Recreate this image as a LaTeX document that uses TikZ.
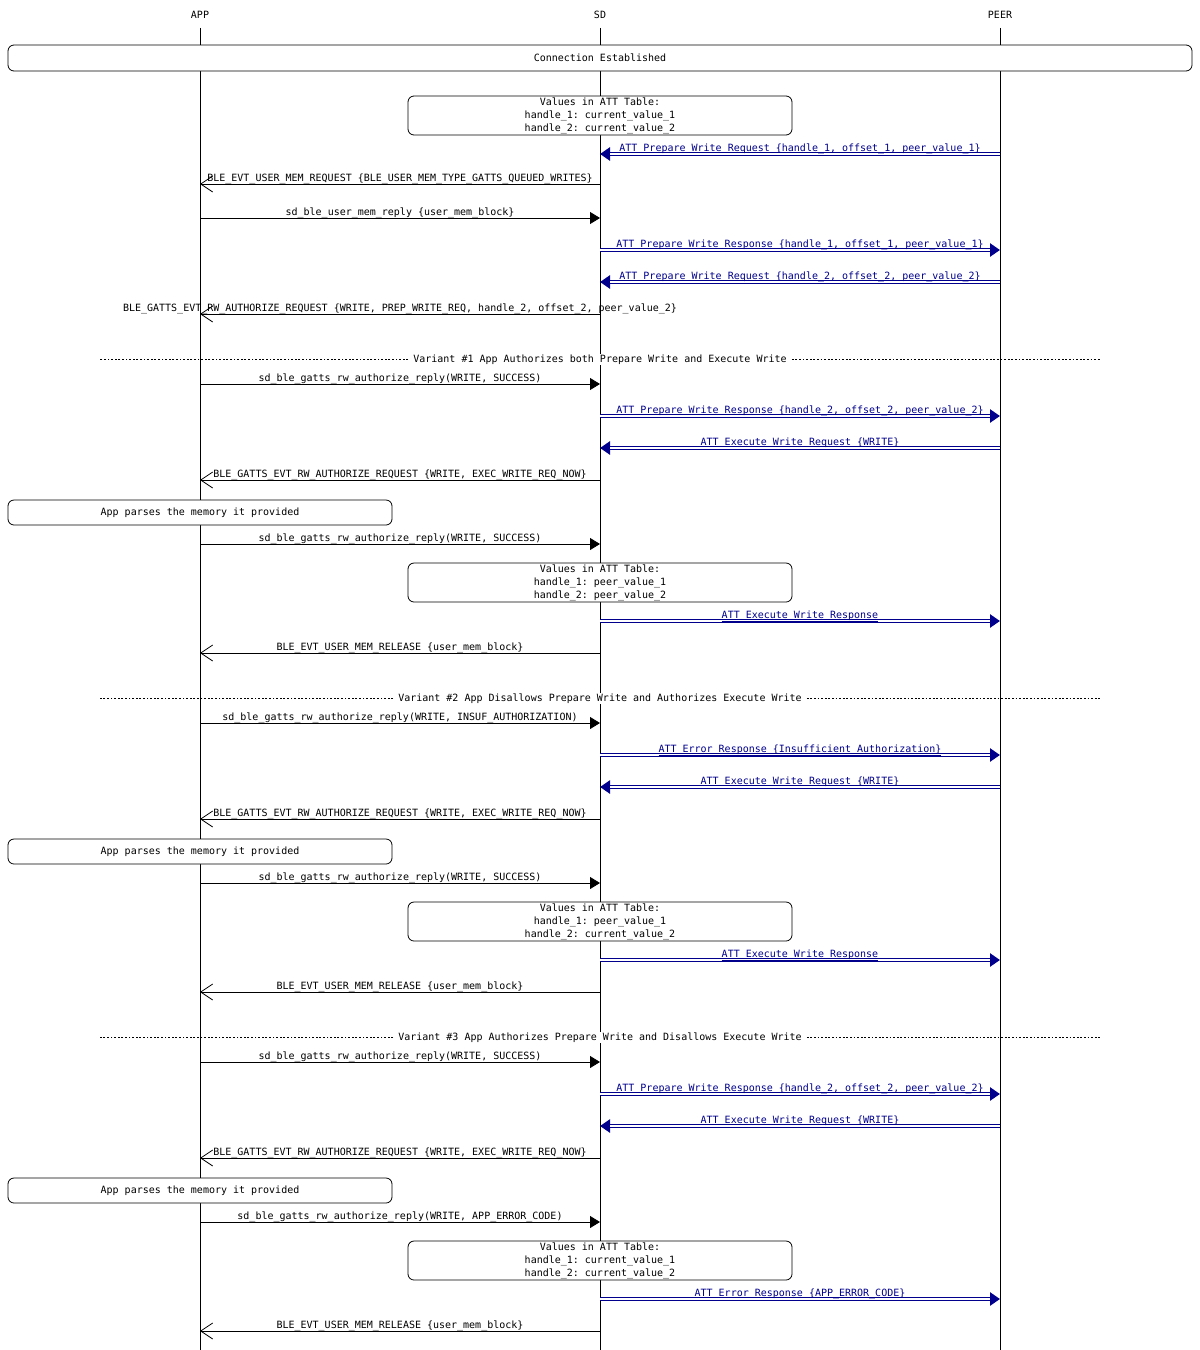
\documentclass[tikz,border=0pt]{standalone}
\usepackage{fontspec}
\setmonofont{DejaVu Sans Mono}
\usepackage{tikz}
\usetikzlibrary{arrows.meta,positioning}
\definecolor{msgblue}{RGB}{0,0,140}
\tikzstyle{actor} = [inner xsep=2pt, inner ysep=9pt]
\tikzstyle{lifeline} = [line width=0.8pt]
\tikzstyle{note} = [draw, fill=white, rounded corners=6pt, line width=0.8pt,
    align=center, inner sep=0pt]
\tikzstyle{call} = [line width=0.8pt, -{Triangle[length=10pt,width=12pt]}]
\tikzstyle{ret} = [line width=0.8pt, -{Straight Barb[length=12pt,width=16pt,line width=0.8pt]}]
\tikzstyle{att} = [msgblue, line width=3.1pt, -{Triangle[length=10pt,width=13pt]},
    postaction={draw=white, line width=1.5pt, -, shorten >=10pt}]
\tikzstyle{lbl} = [midway, anchor=base, yshift=2.8pt, inner sep=0pt]
\tikzstyle{divider} = [line width=0.8pt, dash pattern=on 1.8pt off 1.8pt]
\tikzstyle{divlabel} = [fill=white, inner xsep=5pt, inner ysep=1pt, yshift=-1.5pt]

\begin{document}
\begin{tikzpicture}[x=1pt, y=-1pt, font=\ttfamily\fontsize{10}{13}\selectfont]
    \useasboundingbox (0,0) rectangle (1200,1350);
    % Actors and their lifelines
    \node [actor] (app) at (200,15) {APP};
    \node [actor] (sd) at (600,15) {SD};
    \node [actor] (peer) at (1000,15) {PEER};
    \coordinate (appEnd) at (200,1350);
    \coordinate (sdEnd) at (600,1350);
    \coordinate (peerEnd) at (1000,1350);
    \draw [lifeline] (app) -- (appEnd);
    \draw [lifeline] (sd) -- (sdEnd);
    \draw [lifeline] (peer) -- (peerEnd);

    % Boxes on top of the lifelines
    \node [note, minimum width=1184pt, minimum height=26pt] (conn) at (600,58) {\raisebox{-1pt}{Connection Established}};
    \node [note, minimum width=384pt, minimum height=39pt] (vals1) at (600,115.5)
        {Values in ATT Table:\\handle\_1: current\_value\_1\\handle\_2: current\_value\_2};

    % Setup of the queued writes
    \draw [att] (peer |- 0,154) -- node [lbl] {\underline{ATT Prepare Write Request \{handle\_1, offset\_1, peer\_value\_1\}}} (sd |- 0,154);
    \draw [ret] (sd |- 0,184) -- node [lbl] {BLE\_EVT\_USER\_MEM\_REQUEST \{BLE\_USER\_MEM\_TYPE\_GATTS\_QUEUED\_WRITES\}} (app |- 0,184);
    \draw [call] (app |- 0,218) -- node [lbl] {sd\_ble\_user\_mem\_reply \{user\_mem\_block\}} (sd |- 0,218);
    \draw [att] (sd |- 0,250) -- node [lbl] {\underline{ATT Prepare Write Response \{handle\_1, offset\_1, peer\_value\_1\}}} (peer |- 0,250);
    \draw [att] (peer |- 0,282) -- node [lbl] {\underline{ATT Prepare Write Request \{handle\_2, offset\_2, peer\_value\_2\}}} (sd |- 0,282);
    \draw [ret] (sd |- 0,314) -- node [lbl] {BLE\_GATTS\_EVT\_RW\_AUTHORIZE\_REQUEST \{WRITE, PREP\_WRITE\_REQ, handle\_2, offset\_2, peer\_value\_2\}} (app |- 0,314);

    % Variant 1
    \node [divlabel] (var1) at (600,358) {Variant \#1 App Authorizes both Prepare Write and Execute Write};
    \draw [divider] (var1.west) -- (var1.west -| 100,0);
    \draw [divider] (var1.east) -- (var1.east -| 1100,0);
    \draw [call] (app |- 0,384) -- node [lbl] {sd\_ble\_gatts\_rw\_authorize\_reply(WRITE, SUCCESS)} (sd |- 0,384);
    \draw [att] (sd |- 0,416) -- node [lbl] {\underline{ATT Prepare Write Response \{handle\_2, offset\_2, peer\_value\_2\}}} (peer |- 0,416);
    \draw [att] (peer |- 0,448) -- node [lbl] {\underline{ATT Execute Write Request \{WRITE\}}} (sd |- 0,448);
    \draw [ret] (sd |- 0,480) -- node [lbl] {BLE\_GATTS\_EVT\_RW\_AUTHORIZE\_REQUEST \{WRITE, EXEC\_WRITE\_REQ\_NOW\}} (app |- 0,480);
    \node [note, minimum width=384pt, minimum height=25pt] (parse1) at (200,512.5) {\raisebox{-1pt}{App parses the memory it provided}};
    \draw [call] (app |- 0,544) -- node [lbl] {sd\_ble\_gatts\_rw\_authorize\_reply(WRITE, SUCCESS)} (sd |- 0,544);
    \node [note, minimum width=384pt, minimum height=39pt] (vals2) at (600,582.5)
        {Values in ATT Table:\\handle\_1: peer\_value\_1\\handle\_2: peer\_value\_2};
    \draw [att] (sd |- 0,621) -- node [lbl] {\underline{ATT Execute Write Response}} (peer |- 0,621);
    \draw [ret] (sd |- 0,653) -- node [lbl] {BLE\_EVT\_USER\_MEM\_RELEASE \{user\_mem\_block\}} (app |- 0,653);

    % Variant 2
    \node [divlabel] (var2) at (600,697) {Variant \#2 App Disallows Prepare Write and Authorizes Execute Write};
    \draw [divider] (var2.west) -- (var2.west -| 100,0);
    \draw [divider] (var2.east) -- (var2.east -| 1100,0);
    \draw [call] (app |- 0,723) -- node [lbl] {sd\_ble\_gatts\_rw\_authorize\_reply(WRITE, INSUF\_AUTHORIZATION)} (sd |- 0,723);
    \draw [att] (sd |- 0,755) -- node [lbl] {\underline{ATT Error Response \{Insufficient Authorization\}}} (peer |- 0,755);
    \draw [att] (peer |- 0,787) -- node [lbl] {\underline{ATT Execute Write Request \{WRITE\}}} (sd |- 0,787);
    \draw [ret] (sd |- 0,819) -- node [lbl] {BLE\_GATTS\_EVT\_RW\_AUTHORIZE\_REQUEST \{WRITE, EXEC\_WRITE\_REQ\_NOW\}} (app |- 0,819);
    \node [note, minimum width=384pt, minimum height=25pt] (parse2) at (200,851.5) {\raisebox{-1pt}{App parses the memory it provided}};
    \draw [call] (app |- 0,883) -- node [lbl] {sd\_ble\_gatts\_rw\_authorize\_reply(WRITE, SUCCESS)} (sd |- 0,883);
    \node [note, minimum width=384pt, minimum height=39pt] (vals3) at (600,921.5)
        {Values in ATT Table:\\handle\_1: peer\_value\_1\\handle\_2: current\_value\_2};
    \draw [att] (sd |- 0,960) -- node [lbl] {\underline{ATT Execute Write Response}} (peer |- 0,960);
    \draw [ret] (sd |- 0,992) -- node [lbl] {BLE\_EVT\_USER\_MEM\_RELEASE \{user\_mem\_block\}} (app |- 0,992);

    % Variant 3
    \node [divlabel] (var3) at (600,1036) {Variant \#3 App Authorizes Prepare Write and Disallows Execute Write};
    \draw [divider] (var3.west) -- (var3.west -| 100,0);
    \draw [divider] (var3.east) -- (var3.east -| 1100,0);
    \draw [call] (app |- 0,1062) -- node [lbl] {sd\_ble\_gatts\_rw\_authorize\_reply(WRITE, SUCCESS)} (sd |- 0,1062);
    \draw [att] (sd |- 0,1094) -- node [lbl] {\underline{ATT Prepare Write Response \{handle\_2, offset\_2, peer\_value\_2\}}} (peer |- 0,1094);
    \draw [att] (peer |- 0,1126) -- node [lbl] {\underline{ATT Execute Write Request \{WRITE\}}} (sd |- 0,1126);
    \draw [ret] (sd |- 0,1158) -- node [lbl] {BLE\_GATTS\_EVT\_RW\_AUTHORIZE\_REQUEST \{WRITE, EXEC\_WRITE\_REQ\_NOW\}} (app |- 0,1158);
    \node [note, minimum width=384pt, minimum height=25pt] (parse3) at (200,1190.5) {\raisebox{-1pt}{App parses the memory it provided}};
    \draw [call] (app |- 0,1222) -- node [lbl] {sd\_ble\_gatts\_rw\_authorize\_reply(WRITE, APP\_ERROR\_CODE)} (sd |- 0,1222);
    \node [note, minimum width=384pt, minimum height=39pt] (vals4) at (600,1260.5)
        {Values in ATT Table:\\handle\_1: current\_value\_1\\handle\_2: current\_value\_2};
    \draw [att] (sd |- 0,1299) -- node [lbl] {\underline{ATT Error Response \{APP\_ERROR\_CODE\}}} (peer |- 0,1299);
    \draw [ret] (sd |- 0,1331) -- node [lbl] {BLE\_EVT\_USER\_MEM\_RELEASE \{user\_mem\_block\}} (app |- 0,1331);
\end{tikzpicture}
\end{document}
